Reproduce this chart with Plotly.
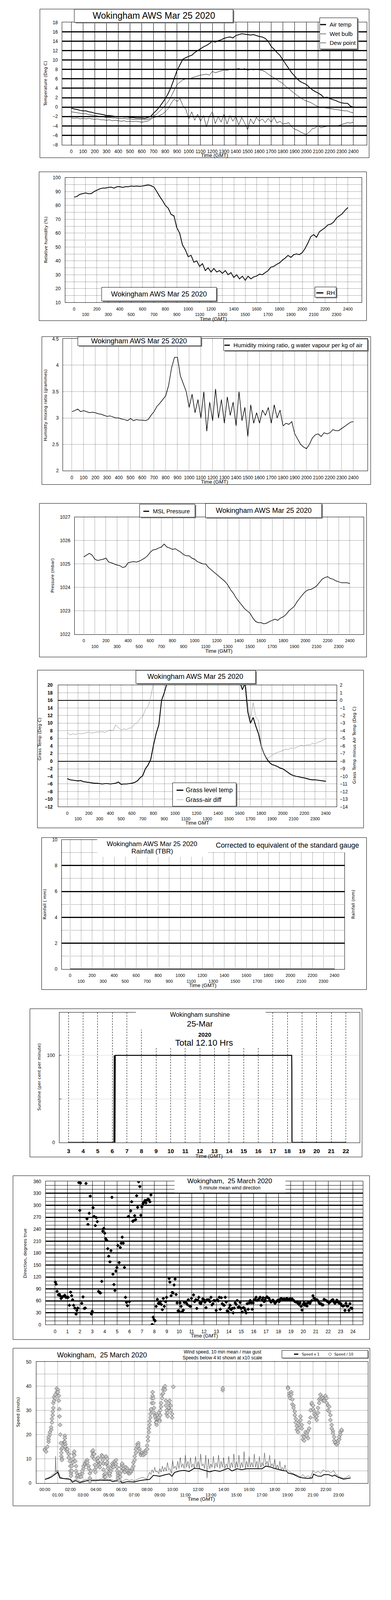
import plotly.graph_objects as go

W, H = 1000, 5000          # coordinate basis of the layout (reference pixels)
FIG_H = 4090               # rendered height (fits the photographed viewport)
SANS = "Liberation Sans, Arial, sans-serif"
WIDE = "DejaVu Sans, Verdana, sans-serif"
DOT = "1px,2px"

# ---------------- data ----------------
T25 = list(range(0, 2401, 25))          # time of day, HHMM-style scale
HHMM = list(range(0, 2401, 100))        # tick values for the HHMM axes
HOUR_TICKS = list(range(0, 24))         # wind speed axis ticks
TITLE = "Wokingham AWS Mar 25 2020"

AIR_TEMP = [
    -0.2, -0.4, -0.5, -0.7,  -0.8, -0.8, -1.0, -1.1,  -1.3, -1.4, -1.5, -1.6,
    -1.8, -1.8, -1.9, -2.0,  -2.0, -2.0, -2.1, -2.1,  -2.2, -2.2, -2.3, -2.3,
    -2.3, -2.4, -2.2, -2.0,  -1.3, -0.7, 0.0, 0.9,  1.8, 2.9, 4.3, 6.0,
    7.8, 9.0, 10.2, 10.5,  10.8, 11.0, 11.6, 12.0,  12.4, 12.8, 13.1, 13.5,
    14.0, 13.8, 14.1, 14.3,  14.6, 14.8, 14.9, 14.7,  15.2, 15.4, 15.6, 15.5,
    15.4, 15.3, 15.4, 15.2,  15.0, 14.9, 14.6, 14.0,  12.9, 12.3, 11.6, 11.0,
    10.0, 9.1, 8.2, 7.3,  6.6, 5.9, 5.4, 5.1,  4.8, 4.2, 3.7, 3.3,
    3.0, 2.6, 2.0, 2.1,  1.8, 1.6, 1.4, 1.1,  0.9, 0.8, 0.8, 0.2,  0.0]
WET_BULB = [
    -1.0, -1.1, -1.2, -1.3,  -1.4, -1.4, -1.6, -1.7,  -1.8, -1.9, -2.0, -2.1,
    -2.2, -2.2, -2.3, -2.3,  -2.4, -2.4, -2.4, -2.5,  -2.5, -2.6, -2.6, -2.6,
    -2.6, -2.7, -2.6, -2.4,  -1.9, -1.5, -0.9, -0.3,  0.4, 1.2, 2.3, 3.6,
    4.8, 5.3, 5.8, 6.0,  6.0, 6.2, 6.4, 6.6,  6.8, 6.9, 7.0, 6.8,
    7.6, 7.3, 7.5, 7.7,  7.9, 7.8, 8.0, 7.9,  8.1, 8.2, 8.0, 8.2,
    7.8, 8.0, 7.9, 8.0,  7.9, 7.8, 7.5, 7.0,  6.6, 6.2, 5.8, 5.4,
    5.0, 4.4, 3.9, 3.4,  2.9, 2.4, 2.0, 1.6,  1.3, 1.1, 0.8, 0.4,
    0.1, 0.0, -0.1, -0.2,  -0.3, -0.4, -0.5, -0.6,  -0.7, -0.8, -0.8, -1.1,  -1.2]
DEW_POINT = [
    -2.3, -2.4, -2.3, -2.5,  -2.4, -2.5, -2.4, -2.5,  -2.6, -2.5, -2.7, -2.7,
    -2.8, -2.7, -2.9, -2.8,  -2.9, -3.0, -2.9, -3.1,  -3.0, -3.1, -3.0, -3.1,
    -3.2, -3.1, -3.0, -2.6,  -2.2, -2.1, -1.8, -1.5,  -1.0, -0.3, 0.8, 1.7,
    1.2, 1.8, 0.3, -0.5,  -2.5, -1.0, -2.8, -1.5,  -3.0, -1.8, -4.2, -2.0,
    -1.0, -3.5, -2.0, -3.2,  -1.5, -3.6, -1.8, -3.0,  -2.0, -3.8, -2.2, -3.4,
    -4.8, -2.5, -3.6, -2.2,  -3.0, -2.5, -3.3, -2.4,  -3.2, -2.2, -3.4, -3.0,
    -3.6, -3.5, -3.3, -4.2,  -4.7, -4.9, -5.3, -5.6,  -5.8, -5.3, -4.6, -4.4,
    -4.0, -4.4, -4.2, -4.1,  -3.9, -4.1, -4.0, -3.9,  -3.7, -3.5, -3.3, -3.4,  -3.2]
RH = [
    86, 86.5, 88, 88.5,  89, 88.5, 88.5, 90,  91, 92, 92.5, 92.5,
    93, 93.2, 92.5, 93.5,  93.5, 93, 93.5, 93.5,  94, 93.8, 94, 93.8,
    94, 94.5, 94.8, 94.2,  93.2, 90, 86.5, 83.5,  80, 78, 73.5, 72.5,
    64, 60, 51.5, 48,  43, 44, 39, 40,  36, 38, 33, 35,
    32, 34.5, 32, 33,  31, 33, 30, 31.5,  28, 30, 27, 29,
    26, 29, 27, 28.5,  29, 30.5, 30, 31.5,  33, 35.5, 36, 37.5,
    38.5, 40.5, 42, 44,  42.5, 44.5, 45, 44.5,  46, 49, 53, 57.5,
    59, 57, 61, 62.5,  64, 66, 66.5, 68,  71, 72.5, 74, 76.5,  78.5]
MIX_RATIO = [
    3.12, 3.14, 3.17, 3.12,  3.14, 3.12, 3.10, 3.11,  3.10, 3.08, 3.07, 3.05,
    3.03, 3.04, 3.02, 3.00,  3.00, 2.98, 2.97, 2.95,  2.99, 2.95, 2.97, 2.96,
    2.96, 2.95, 2.97, 3.05,  3.12, 3.22, 3.28, 3.35,  3.42, 3.62, 3.95, 4.15,
    4.15, 3.8, 3.65, 3.5,  3.2, 3.45, 3.1, 3.35,  3.0, 3.5, 2.75, 3.3,
    2.95, 3.55, 3.0, 3.35,  2.9, 3.4, 3.05, 3.3,  2.85, 3.5, 2.95, 3.2,
    2.65, 3.25, 2.9, 3.1,  2.9, 3.15, 3.05, 3.2,  2.9, 3.25, 3.0, 3.15,
    2.85, 2.9, 2.88, 2.93,  2.7, 2.6, 2.5, 2.45,  2.42, 2.5, 2.62, 2.68,
    2.7, 2.65, 2.72, 2.7,  2.72, 2.78, 2.76, 2.76,  2.8, 2.84, 2.88, 2.92,  2.93]
MSL_PRESSURE = [
    1025.3, 1025.38, 1025.45, 1025.38,  1025.2, 1025.15, 1025.17, 1025.2,
    1025.25, 1025.08, 1025.05, 1025.0,  1024.95, 1024.93, 1024.85, 1024.88,
    1025.05, 1025.08, 1025.1, 1025.08,  1025.12, 1025.18, 1025.25, 1025.35,
    1025.5, 1025.6, 1025.62, 1025.68,  1025.72, 1025.85, 1025.72, 1025.68,
    1025.62, 1025.65, 1025.58, 1025.5,  1025.4, 1025.35, 1025.35, 1025.25,
    1025.2, 1025.1, 1025.05, 1025.0,  1025.0, 1024.85, 1024.75, 1024.65,
    1024.55, 1024.45, 1024.35, 1024.25,  1024.1, 1023.9, 1023.75, 1023.55,
    1023.4, 1023.25, 1023.1, 1023.0,  1022.9, 1022.7, 1022.55, 1022.5,
    1022.5, 1022.45, 1022.48, 1022.55,  1022.6, 1022.65, 1022.6, 1022.7,
    1022.75, 1022.85, 1023.0, 1023.1,  1023.2, 1023.4, 1023.55, 1023.7,
    1023.83, 1023.9, 1023.92, 1023.98,  1024.06, 1024.2, 1024.35, 1024.42,
    1024.46, 1024.38, 1024.35, 1024.28,  1024.24, 1024.2, 1024.2, 1024.2,  1024.17]
GRASS_TEMP = [
    -4.6, -4.9, -5.0, -5.1,  -5.2, -5.1, -5.4, -5.5,  -5.6, -5.7, -5.8, -5.8,
    -5.9, -6.0, -5.9, -5.9,  -6.0, -5.9, -5.8, -5.5,  -6.1, -6.0, -6.0, -5.9,
    -5.8, -5.6, -5.2, -4.4,  -3.8, -2.0, -1.0, 0.5,  4.2, 7.3, 9.6, 16.0,
    18.0, 20.5, 22.0, 23.5,  24.5, 25.5, 26.0, 27.0,  27.5, 28.0, 28.5, 29.0,
    29.5, 30.0, 30.5, 31.0,  31.0, 31.5, 31.0, 30.5,  30.0, 29.5, 29.0, 28.0,
    27.0, 26.0, 25.0, 23.5,  21.0, 18.8, 20.5, 13.0,  10.0, 11.5, 9.2, 7.2,
    4.0, 2.0, 0.7, -0.3,  -0.9, -1.1, -1.4, -1.8,  -2.0, -2.5, -3.0, -3.5,
    -3.8, -4.0, -4.1, -4.3,  -4.4, -4.6, -4.8, -4.9,  -4.9, -5.0, -5.1, -5.2,  -5.3]
GRASS_AIR_DIFF = [
    -4.2, -4.55, -4.4, -4.5,  -4.35, -4.4, -4.35, -4.25,  -4.2, -4.3, -4.25, -4.15,
    -4.2, -4.1, -4.25, -4.0,  -3.9, -4.0, -3.2, -3.6,  -3.9, -3.75, -3.85, -3.65,
    -3.6, -3.1, -2.95, -2.4,  -2.15, -1.2, -0.8, 0.5,  2.3, 4.0, 4.5, 5.0,
    5.5, 6.0, 6.5, 7.0,  7.5, 8.0, 8.5, 9.0,  9.5, 10.0, 10.5, 11.0,
    11.5, 12.0, 12.0, 12.5,  12.5, 12.5, 12.0, 12.0,  11.5, 11.0, 10.5, 10.0,
    9.5, 9.0, 8.0, 7.0,  6.0, 5.0, 3.0, -0.5,  -2.5, -0.3, -2.2, -2.7,
    -6.0, -7.0, -7.6, -7.5,  -7.25, -7.0, -6.85, -6.75,  -6.6, -6.4, -6.5, -6.25,
    -6.35, -6.2, -6.0, -5.9,  -6.0, -5.85, -5.9, -5.65,  -5.75, -5.5, -5.4, -5.2,  -5.1]
RAIN_MM = [0.0, 0.0, 0.0, 0.0, 0.0, 0.0, 0.0, 0.0, 0.0, 0.0, 0.0, 0.0, 0.0,
           0.0, 0.0, 0.0, 0.0, 0.0, 0.0, 0.0, 0.0, 0.0, 0.0, 0.0, 0.0]
SUN_HOURS = [3.0, 6.11, 6.13, 6.15, 6.18, 6.20, 18.29, 18.30, 18.31, 22.0]
SUN_PCT = [0, 0, 100, 0, 0, 100, 100, 82, 0, 0]
SUN_TICKS = list(range(3, 23))

WIND_DIR = [
    (0.02, 107), (0.08, 102), (0.16, 84), (0.26, 75), (0.34, 77), (0.4, 73), (0.48, 66), (0.58, 70),
    (0.7, 72), (0.78, 74), (0.86, 69), (0.96, 69), (1.05, 69), (1.15, 49), (1.25, 82), (1.33, 73),
    (1.41, 63), (1.49, 49), (1.59, 42), (1.69, 27), (1.75, 36), (1.83, 42), (1.91, 357), (1.99, 287),
    (2.05, 356), (2.15, 54), (2.25, 70), (2.35, 41), (2.43, 42), (2.49, 355), (2.57, 266), (2.65, 252),
    (2.75, 280), (2.83, 323), (2.93, 27), (2.99, 34), (3.06, 294), (3.14, 272), (3.24, 249), (3.32, 269),
    (3.4, 259), (3.5, 84), (3.58, 81), (3.66, 80), (3.76, 109), (3.84, 235), (3.92, 242), (4.0, 230),
    (4.08, 216), (4.16, 212), (4.24, 191), (4.32, 172), (4.42, 158), (4.5, 186), (4.58, 320), (4.66, 127),
    (4.74, 101), (4.82, 86), (4.9, 135), (4.98, 144), (5.06, 199), (5.16, 156), (5.25, 194), (5.33, 205),
    (5.41, 220), (5.49, 205), (5.59, 144), (5.67, 69), (5.75, 56), (5.83, 48), (5.91, 272), (5.99, 58),
    (6.09, 286), (6.17, 309), (6.25, 260), (6.33, 261), (6.41, 274), (6.49, 264), (6.57, 324), (6.65, 295),
    (6.73, 359), (6.83, 347), (6.91, 275), (6.99, 296), (7.08, 304), (7.16, 308), (7.24, 312), (7.32, 306),
    (7.4, 313), (7.48, 315), (7.56, 314), (7.64, 309), (7.72, 326), (7.82, 1), (7.9, 19), (7.98, 13),
    (8.06, 10), (8.14, 46), (8.24, 64), (8.32, 54), (8.4, 53), (8.48, 58), (8.56, 51), (8.64, 38),
    (8.72, 66), (8.8, 46), (8.9, 58), (8.98, 69), (9.19, 116), (9.25, 107), (9.35, 73), (9.43, 81),
    (9.51, 80), (9.59, 100), (9.67, 115), (9.75, 76), (9.83, 55), (9.91, 35), (9.99, 34), (10.07, 55),
    (10.15, 46), (10.25, 33), (10.33, 37), (10.41, 56), (10.49, 57), (10.57, 55), (10.65, 51), (10.73, 63),
    (10.83, 47), (10.91, 46), (10.99, 66), (11.16, 75), (11.24, 58), (11.34, 63), (11.42, 41), (11.5, 62),
    (11.58, 69), (11.66, 55), (11.74, 53), (11.82, 58), (11.9, 65), (12.0, 63), (12.08, 57), (12.16, 43),
    (12.24, 63), (12.32, 62), (12.4, 63), (12.48, 58), (12.56, 69), (12.64, 50), (12.72, 53), (12.8, 61),
    (12.88, 60), (12.98, 36), (13.07, 63), (13.15, 60), (13.23, 69), (13.31, 39), (13.39, 68), (13.47, 53),
    (13.55, 50), (13.63, 49), (13.71, 69), (13.79, 57), (13.87, 35), (13.95, 32), (14.03, 42), (14.11, 49),
    (14.19, 38), (14.27, 41), (14.35, 30), (14.43, 42), (14.51, 55), (14.59, 51), (14.67, 61), (14.75, 44),
    (14.83, 45), (14.91, 56), (14.99, 41), (15.08, 32), (15.16, 43), (15.24, 42), (15.32, 36), (15.4, 30),
    (15.48, 53), (15.56, 39), (15.64, 55), (15.72, 61), (15.8, 55), (15.88, 39), (15.96, 55), (16.04, 63),
    (16.12, 63), (16.2, 69), (16.28, 61), (16.36, 63), (16.44, 65), (16.52, 69), (16.6, 49), (16.68, 63),
    (16.76, 68), (16.84, 58), (16.92, 63), (17.0, 68), (17.08, 70), (17.16, 68), (17.24, 66), (17.32, 61),
    (17.4, 57), (17.48, 60), (17.56, 62), (17.64, 58), (17.72, 54), (17.8, 57), (17.88, 60), (17.96, 62),
    (18.05, 58), (18.13, 64), (18.21, 66), (18.29, 65), (18.37, 63), (18.45, 65), (18.53, 63), (18.61, 65),
    (18.69, 66), (18.77, 63), (18.85, 64), (18.93, 65), (19.01, 63), (19.09, 65), (19.17, 63), (19.26, 60),
    (19.34, 58), (19.42, 57), (19.5, 58), (19.58, 54), (19.66, 51), (19.74, 55), (19.82, 46), (19.9, 37),
    (19.98, 51), (20.06, 55), (20.14, 49), (20.22, 53), (20.3, 47), (20.38, 55), (20.46, 57), (20.54, 54),
    (20.62, 59), (20.7, 61), (20.78, 73), (20.86, 67), (20.94, 62), (21.03, 63), (21.11, 63), (21.19, 60),
    (21.27, 55), (21.35, 53), (21.43, 53), (21.51, 50), (21.59, 50), (21.67, 64), (21.75, 62), (21.83, 61),
    (21.91, 59), (21.99, 58), (22.07, 55), (22.15, 57), (22.23, 59), (22.31, 62), (22.39, 63), (22.47, 57),
    (22.55, 54), (22.63, 57), (22.71, 62), (22.79, 57), (22.87, 55), (22.95, 54), (23.03, 53), (23.12, 48),
    (23.2, 47), (23.28, 48), (23.36, 36), (23.44, 54), (23.52, 47), (23.6, 47), (23.68, 36), (23.76, 53),
    (23.84, 42), (23.92, 41)]

SPEED_MEAN = [
    (0.0, 1.5), (0.3, 2.0), (0.5, 2.5), (0.7, 3.3), (0.9, 4.0), (1.0, 4.6), (1.17, 2.1), (1.4, 1.9),
    (1.7, 1.7), (2.0, 1.5), (2.15, 0.35), (2.4, 1.0), (2.73, 0.2), (3.0, 0.6), (3.3, 1.0), (3.6, 1.1),
    (3.9, 1.0), (4.3, 1.2), (4.7, 1.1), (5.1, 1.2), (5.3, 0.6), (5.6, 0.9), (5.9, 0.8), (6.05, 0.1),
    (6.45, 0.6), (7.0, 0.45), (7.4, 1.0), (7.8, 1.3), (8.2, 1.5), (8.5, 3.2), (9.0, 2.8), (9.4, 3.4),
    (9.75, 3.8), (9.95, 2.8), (10.15, 4.35), (10.55, 5.0), (10.9, 5.2), (11.3, 4.8), (11.7, 6.1),
    (12.1, 5.9), (12.5, 5.2), (12.9, 4.6), (13.3, 5.2), (13.7, 4.8), (14.05, 5.5), (14.35, 6.1),
    (14.65, 5.0), (15.05, 5.9), (15.4, 5.5), (15.8, 5.9), (16.2, 5.9), (16.6, 5.9), (17.0, 5.9),
    (17.3, 7.0), (17.7, 6.6), (17.92, 6.1), (18.07, 5.9), (18.43, 5.4), (18.69, 5.1), (18.9, 5.0),
    (19.07, 4.1), (19.46, 3.6), (19.88, 2.5), (20.12, 2.2), (20.58, 1.9), (20.93, 2.1), (21.04, 3.7),
    (21.35, 2.9), (21.65, 2.8), (21.85, 3.5), (22.21, 3.5), (22.52, 2.8), (22.67, 3.3), (22.98, 2.4),
    (23.39, 1.6), (23.79, 2.0), (23.94, 2.1)]

SPEED_GUST = [
    (0.0, 1.6), (0.2, 2.0), (0.4, 2.6), (0.6, 3.5), (0.8, 4.0), (0.84, 11.0), (0.88, 4.5), (1.0, 5.5),
    (1.1, 4.0), (1.2, 2.5), (1.4, 2.0), (1.6, 1.8), (1.8, 2.0), (2.0, 1.5), (2.2, 0.9), (2.4, 1.5),
    (2.6, 1.2), (2.8, 0.6), (3.0, 1.0), (3.2, 1.6), (3.4, 1.2), (3.6, 1.8), (3.8, 1.3), (4.0, 1.6),
    (4.2, 1.2), (4.4, 1.8), (4.6, 1.4), (4.8, 1.6), (5.0, 1.2), (5.2, 1.5), (5.4, 1.0), (5.6, 1.4),
    (5.8, 1.2), (6.0, 0.5), (6.2, 1.2), (6.4, 1.6), (6.6, 1.0), (6.8, 1.4), (7.0, 0.9), (7.2, 1.5),
    (7.4, 1.8), (7.6, 2.4), (7.8, 2.0), (8.0, 1.8), (8.2, 4.5), (8.3, 3.5), (8.4, 5.5), (8.5, 4.2),
    (8.6, 6.5), (8.7, 4.5), (8.8, 5.0), (8.9, 3.8), (9.0, 6.0), (9.1, 4.5), (9.2, 7.0), (9.3, 4.8),
    (9.4, 6.5), (9.5, 5.0), (9.6, 8.5), (9.7, 5.5), (9.8, 6.0), (9.9, 4.0), (10.0, 9.5), (10.1, 6.0),
    (10.2, 7.0), (10.3, 5.5), (10.4, 9.0), (10.5, 6.0), (10.6, 10.5), (10.7, 6.5), (10.8, 8.0),
    (10.9, 6.0), (11.0, 11.5), (11.1, 6.5), (11.2, 9.0), (11.3, 6.0), (11.4, 10.5), (11.5, 6.5),
    (11.6, 8.0), (11.7, 6.0), (11.8, 11.0), (11.9, 6.5), (12.0, 9.0), (12.1, 6.0), (12.2, 12.0),
    (12.3, 7.0), (12.4, 8.0), (12.5, 6.0), (12.6, 11.5), (12.7, 2.0), (12.8, 10.0), (12.9, 6.0),
    (13.0, 8.0), (13.1, 6.5), (13.2, 11.0), (13.3, 6.0), (13.4, 8.5), (13.5, 6.5), (13.6, 11.5),
    (13.7, 6.0), (13.8, 9.0), (13.9, 6.5), (14.0, 10.5), (14.1, 6.0), (14.2, 8.0), (14.3, 6.5),
    (14.4, 11.0), (14.5, 6.0), (14.6, 8.5), (14.7, 6.5), (14.8, 12.0), (14.9, 6.0), (15.0, 9.0),
    (15.1, 6.5), (15.2, 11.5), (15.3, 6.0), (15.4, 8.5), (15.5, 6.5), (15.6, 13.0), (15.7, 6.0),
    (15.8, 9.0), (15.9, 6.5), (16.0, 11.0), (16.1, 6.5), (16.2, 8.5), (16.3, 6.5), (16.4, 12.0),
    (16.5, 6.5), (16.6, 9.0), (16.7, 6.0), (16.8, 11.0), (16.9, 6.5), (17.0, 8.5), (17.1, 7.0),
    (17.2, 12.5), (17.3, 7.5), (17.4, 9.0), (17.5, 7.0), (17.6, 11.5), (17.7, 7.0), (17.8, 8.0),
    (17.9, 6.5), (18.0, 10.0), (18.1, 6.0), (18.2, 7.5), (18.3, 5.5), (18.4, 9.0), (18.5, 5.5),
    (18.6, 6.5), (18.7, 5.0), (18.8, 7.5), (18.9, 5.0), (19.0, 5.5), (19.2, 4.5), (19.4, 4.0),
    (19.6, 3.5), (19.8, 3.2), (20.0, 2.5), (20.2, 3.5), (20.4, 2.3), (20.6, 3.0), (20.8, 2.2),
    (21.0, 5.2), (21.2, 4.2), (21.4, 4.8), (21.6, 4.0), (21.8, 5.5), (22.0, 4.8), (22.2, 5.0),
    (22.4, 4.2), (22.6, 5.2), (22.8, 3.5), (23.0, 3.0), (23.2, 2.2), (23.4, 2.0), (23.6, 2.3),
    (23.8, 3.2), (23.94, 2.4)]

SPEED_X10 = [
    (0.0, 14.0), (0.0, 13.5), (0.1, 13.0), (0.2, 15.0), (0.29, 17.0), (0.29, 18.0), (0.29, 19.0),
    (0.39, 20.0), (0.39, 21.0), (0.49, 22.0), (0.49, 23.0), (0.55, 25.0), (0.55, 26.5), (0.61, 28.0),
    (0.61, 29.5), (0.66, 31.0), (0.66, 33.0), (0.72, 34.0), (0.72, 35.5), (0.82, 35.0), (0.82, 36.5),
    (0.92, 37.5), (0.92, 39.0), (1.02, 38.5), (1.02, 37.5), (1.09, 36.0), (1.09, 34.0), (1.13, 30.5),
    (1.15, 27.5), (1.19, 24.0), (1.21, 20.0), (1.25, 16.5), (1.29, 14.0), (1.29, 12.5), (1.29, 11.0),
    (1.33, 10.0), (1.33, 9.5), (1.37, 14.5), (1.46, 15.5), (1.52, 17.0), (1.56, 19.5), (1.56, 18.5),
    (1.56, 17.0), (1.6, 16.0), (1.6, 15.0), (1.68, 14.0), (1.68, 13.5), (1.76, 13.0), (1.76, 14.0),
    (1.86, 12.0), (1.86, 10.5), (1.95, 9.0), (1.99, 7.0), (1.99, 5.0), (2.05, 4.0), (2.05, 3.0),
    (2.11, 5.0), (2.11, 7.0), (2.19, 8.5), (2.19, 10.0), (2.25, 12.0), (2.3, 13.0), (2.3, 11.5),
    (2.38, 9.0), (2.44, 7.0), (2.44, 5.0), (2.5, 4.0), (2.5, 2.5), (2.58, 3.0), (2.7, 2.5),
    (2.77, 3.5), (2.83, 2.5), (2.93, 4.0), (2.93, 5.0), (3.03, 6.0), (3.03, 7.0), (3.13, 7.5),
    (3.13, 8.0), (3.22, 8.5), (3.22, 9.0), (3.32, 9.5), (3.32, 8.5), (3.42, 7.0), (3.42, 6.0),
    (3.52, 4.0), (3.52, 2.0), (3.52, 0.7), (3.61, 5.0), (3.71, 11.0), (3.71, 13.0), (3.77, 12.0),
    (3.77, 13.5), (3.85, 12.0), (3.85, 10.0), (3.91, 7.5), (3.91, 5.5), (3.96, 4.5), (4.02, 6.5),
    (4.1, 9.0), (4.1, 10.0), (4.16, 10.5), (4.16, 9.0), (4.24, 8.0), (4.24, 7.5), (4.3, 6.5),
    (4.36, 8.0), (4.45, 10.5), (4.45, 11.5), (4.53, 11.0), (4.53, 9.5), (4.59, 8.0), (4.59, 5.5),
    (4.65, 3.5), (4.65, 2.5), (4.73, 2.5), (4.73, 4.0), (4.79, 8.0), (4.79, 10.5), (4.79, 11.0),
    (4.88, 10.0), (4.88, 8.5), (4.94, 7.0), (4.94, 6.0), (5.02, 4.5), (5.02, 3.5), (5.08, 3.0),
    (5.08, 4.0), (5.18, 5.0), (5.18, 6.0), (5.27, 7.0), (5.27, 8.0), (5.37, 7.5), (5.37, 6.5),
    (5.47, 8.0), (5.47, 9.0), (5.57, 9.5), (5.57, 8.0), (5.66, 6.5), (5.66, 5.0), (5.72, 4.0),
    (5.72, 3.0), (5.72, 2.0), (5.82, 1.0), (5.9, 2.5), (5.9, 4.0), (5.98, 5.0), (5.98, 6.5),
    (6.05, 7.5), (6.05, 8.0), (6.15, 7.0), (6.15, 6.0), (6.25, 5.0), (6.25, 4.5), (6.35, 5.5),
    (6.35, 6.5), (6.45, 6.0), (6.45, 5.0), (6.54, 4.5), (6.54, 4.0), (6.64, 5.0), (6.64, 4.0),
    (6.74, 4.5), (6.74, 5.0), (6.84, 5.5), (6.84, 6.0), (6.93, 7.0), (6.93, 8.5), (7.03, 9.5),
    (7.03, 11.0), (7.13, 12.5), (7.13, 14.0), (7.23, 15.0), (7.23, 16.0), (7.32, 16.5), (7.32, 15.5),
    (7.42, 14.0), (7.42, 13.0), (7.52, 12.0), (7.52, 11.5), (7.62, 12.0), (7.62, 12.5), (7.71, 12.0),
    (7.71, 11.5), (7.81, 13.0), (7.81, 12.0), (7.91, 12.5), (7.91, 13.5), (8.01, 14.0), (8.01, 15.5),
    (8.07, 17.5), (8.07, 19.0), (8.14, 21.0), (8.14, 22.5), (8.2, 24.0), (8.2, 25.5), (8.26, 27.0),
    (8.26, 28.5), (8.32, 30.0), (8.32, 30.5), (8.38, 33.0), (8.38, 35.0), (8.44, 36.0), (8.44, 37.5),
    (8.5, 35.0), (8.5, 33.0), (8.55, 31.0), (8.55, 29.0), (8.63, 28.0), (8.63, 27.5), (8.69, 26.5),
    (8.69, 25.0), (8.75, 24.0), (8.75, 25.0), (8.83, 26.5), (8.83, 28.0), (8.91, 29.0), (8.91, 27.0),
    (8.98, 26.0), (8.98, 25.5), (9.04, 28.0), (9.04, 30.0), (9.1, 31.5), (9.1, 33.0), (9.18, 35.0),
    (9.18, 36.5), (9.26, 37.0), (9.26, 38.5), (9.34, 39.5), (9.34, 39.0), (9.41, 40.0), (9.41, 38.5),
    (9.47, 34.0), (9.47, 32.0), (9.53, 30.0), (9.53, 28.5), (9.61, 27.5), (9.61, 29.0), (9.69, 31.0),
    (9.69, 33.0), (9.77, 34.0), (9.86, 32.0), (9.86, 30.0), (9.96, 28.5), (9.96, 27.0), (10.06, 39.7),
    (13.93, 38.3), (13.93, 39.1),
    (19.04, 39.5), (19.04, 39.0), (19.14, 37.0), (19.14, 36.0), (19.2, 35.0), (19.3, 37.5),
    (19.3, 36.5), (19.38, 34.5), (19.38, 32.5), (19.47, 32.0), (19.47, 31.0), (19.57, 29.5),
    (19.57, 28.0), (19.65, 26.5), (19.65, 25.0), (19.73, 23.5), (19.73, 22.0), (19.82, 21.0),
    (19.82, 22.5), (19.92, 24.0), (19.92, 25.5), (20.02, 27.5), (20.02, 26.0), (20.12, 24.0),
    (20.12, 22.5), (20.21, 19.5), (20.21, 18.0), (20.31, 17.5), (20.31, 19.0), (20.41, 20.0),
    (20.41, 21.0), (20.51, 20.5), (20.51, 19.5), (20.61, 18.5), (20.61, 21.5), (20.7, 22.5),
    (20.7, 25.0), (20.8, 27.0), (20.8, 30.0), (20.9, 32.5), (20.9, 33.0), (21.0, 32.0), (21.0, 30.5),
    (21.09, 29.5), (21.09, 28.5), (21.19, 28.0), (21.19, 27.0), (21.29, 26.0), (21.29, 27.5),
    (21.39, 29.0), (21.39, 31.0), (21.48, 33.0), (21.48, 34.5), (21.58, 35.0), (21.58, 36.5),
    (21.68, 35.5), (21.68, 34.5), (21.78, 34.0), (21.78, 35.0), (21.88, 34.5), (21.88, 34.0),
    (21.97, 35.0), (21.97, 36.0), (22.07, 35.0), (22.07, 33.0), (22.17, 32.0), (22.17, 30.0),
    (22.27, 31.5), (22.27, 29.5), (22.36, 28.0), (22.36, 26.0), (22.46, 24.0), (22.46, 22.5),
    (22.56, 21.5), (22.56, 20.5), (22.66, 19.0), (22.66, 17.5), (22.75, 16.5), (22.75, 16.8),
    (22.85, 16.0), (22.85, 15.8), (22.95, 16.5), (22.95, 17.5), (23.05, 18.0), (23.05, 19.0),
    (23.14, 20.0), (23.14, 21.0), (23.24, 21.5), (23.24, 22.0)]

for arr in (AIR_TEMP, WET_BULB, DEW_POINT, RH, MIX_RATIO, MSL_PRESSURE, GRASS_TEMP, GRASS_AIR_DIFF):
    assert len(arr) == len(T25), len(arr)
assert len(RAIN_MM) == len(HHMM)

# ---------------- helpers ----------------
shapes, ann = [], []
XSTAND = 6        # x tick label standoff (px)


def xd(a, b):
    return [a / W, b / W]


def yd(top, bot):
    return [1 - bot / H, 1 - top / H]


def PX(x):
    return x / W


def PY(y):
    return 1 - y / H


def add_rect(x0, y0, x1, y1, fill="white", line=None, lw=1):
    shapes.append(dict(type="rect", xref="paper", yref="paper", x0=PX(x0), x1=PX(x1),
                       y0=PY(y1), y1=PY(y0), fillcolor=fill,
                       line=dict(color=line if line else "rgba(0,0,0,0)", width=lw if line else 0),
                       layer="above"))


def add_box(x0, y0, x1, y1, sh=3):
    add_rect(x0 + sh, y0 + sh, x1 + sh, y1 + sh, fill="#7f7f7f")
    add_rect(x0, y0, x1, y1, fill="white", line="black")


def add_frame(x0, y0, x1, y1):
    add_rect(x0, y0, x1, y1, fill="rgba(0,0,0,0)", line="black")


def add_seg(x0, x1, y, w=3, color="black"):
    shapes.append(dict(type="line", xref="paper", yref="paper", x0=PX(x0), x1=PX(x1),
                       y0=PY(y), y1=PY(y), line=dict(color=color, width=w), layer="above"))


def add_text(x, y, s, size, family=SANS, anchor="center", angle=0, color="black"):
    ann.append(dict(xref="paper", yref="paper", x=PX(x), y=PY(y), text=s, showarrow=False,
                    xanchor=anchor, yanchor="middle", textangle=angle,
                    font=dict(family=family, size=size, color=color)))


def tfont(size=12, bold=False):
    d = dict(family=SANS, size=size, color="black")
    if bold:
        d["weight"] = "bold"
    return d


def base_axis(domain, rng, anchor, **kw):
    d = dict(domain=domain, range=rng, anchor=anchor, showline=True, mirror=True,
             linecolor="black", linewidth=1, ticks="", zeroline=False, showgrid=False,
             gridcolor="black", gridwidth=1, tickfont=tfont(), fixedrange=True, tickangle=0)
    d.update(kw)
    return d


def grid_overlay(base, rng, vals, width, anchor):
    return dict(overlaying=base, anchor=anchor, range=rng, tickmode="array", tickvals=vals,
                showticklabels=False, showgrid=True, gridcolor="black", gridwidth=width,
                zeroline=False, showline=False, ticks="", fixedrange=True)


def two_row(vals, fmt):
    return [fmt(v) if i % 2 == 0 else "<br>" + fmt(v) for i, v in enumerate(vals)]


fig = go.Figure()
L = dict(width=W, height=FIG_H, margin=dict(l=0, r=0, t=0, b=0), paper_bgcolor="white",
         plot_bgcolor="white", showlegend=False)


def line(x, y, xa, ya, color="black", width=1):
    fig.add_trace(go.Scatter(x=x, y=y, mode="lines", line=dict(color=color, width=width),
                             xaxis=xa, yaxis=ya, hoverinfo="skip"))


def dummy(xa, ya):
    fig.add_trace(go.Scatter(x=[None], y=[None], mode="lines", xaxis=xa, yaxis=ya, hoverinfo="skip"))


# ---------------- panel 1: temperatures ----------------
L["xaxis"] = base_axis(xd(159.4, 937.5), [-76, 2512], "y", tickmode="array", tickvals=HHMM,
                       ticktext=[str(v) for v in HHMM], showgrid=True, ticklabelstandoff=XSTAND)
L["yaxis"] = base_axis(yd(61.7, 446.0), [-8, 18], "x", tickmode="linear", tick0=-8, dtick=2,
                       ticklabelstandoff=8)
L["yaxis11"] = grid_overlay("y", [-8, 18], [-6, -4, -2, 0, 2, 4, 6, 8, 10, 12, 14, 16], 3, "x")
line(T25, WET_BULB, "x", "y", width=1)
line(T25, DEW_POINT, "x", "y", width=1)
line(T25, AIR_TEMP, "x", "y", width=2)
dummy("x", "y11")
add_frame(102, 19.9, 944, 486.8)
add_box(190, 20.6, 596, 61.7)
add_text(393, 40, TITLE, 23)
add_box(817.6, 47.4, 914, 145.3)
add_seg(819, 834, 68.6, 3)
add_seg(819, 834, 97.8, 1)
add_seg(819, 834, 126, 1)
add_text(841, 68.6, "Air temp", 15, anchor="left")
add_text(841, 97.8, "Wet bulb", 15, anchor="left")
add_text(841, 126, "Dew point", 15, anchor="left")
add_text(549, 479.2, "Time (GMT)", 13)
add_text(116.7, 254.4, "Temperature (Deg C)", 11, family=WIDE, angle=-90)

# ---------------- panel 2: RH ----------------
L["xaxis2"] = base_axis(xd(166.5, 924.8), [-79, 2520], "y2", tickmode="array", tickvals=HHMM,
                        ticktext=two_row(HHMM, str), showgrid=True, griddash=DOT,
                        tickfont=tfont(11), ticklabelstandoff=XSTAND)
L["yaxis2"] = base_axis(yd(549.5, 941.3), [10, 100], "x2", tickmode="linear", tick0=10, dtick=10,
                        showgrid=True, griddash=DOT, ticklabelstandoff=8,
                        minor=dict(dtick=5, tick0=0, showgrid=True, gridcolor="black", griddash=DOT,
                                   gridwidth=1, ticks=""))
line(T25, RH, "x2", "y2", width=2)
add_frame(100, 531, 937.5, 998.4)
add_box(260, 893.6, 553.6, 936.6)
add_text(406, 915.6, TITLE, 18)
add_box(805.5, 892.6, 859.7, 925.1)
add_seg(809, 827, 911.2, 3)
add_text(833, 911.2, "RH", 15, anchor="left")
add_text(546, 993, "Time (GMT)", 13)
add_text(117, 744.9, "Relative humidity (%)", 11, family=WIDE, angle=-90)

# ---------------- panel 3: mixing ratio ----------------
L["xaxis3"] = base_axis(xd(160.7, 939.5), [-77, 2519], "y3", tickmode="array", tickvals=HHMM,
                        ticktext=[str(v) for v in HHMM], showgrid=True, griddash=DOT,
                        ticklabelstandoff=XSTAND)
L["yaxis3"] = base_axis(yd(1055.4, 1469.8), [2, 4.5], "x3", tickmode="linear", tick0=2, dtick=0.5,
                        showgrid=True, griddash=DOT, ticklabelstandoff=7)
line(T25, MIX_RATIO, "x3", "y3", width=1.5)
add_frame(107, 1048.5, 948, 1513)
add_box(199, 1048.9, 514, 1077.2)
add_text(355, 1062.5, TITLE, 18)
add_box(572, 1056, 940, 1092.5)
add_seg(574, 588, 1075.5, 3)
add_text(595, 1075.5, "Humidity mixing ratio, g water vapour per kg of air", 15, anchor="left")
add_text(549, 1504.9, "Time (GMT)", 13)
add_text(116.7, 1264.2, "Humidity mixing ratio (grammes)", 11, family=WIDE, angle=-90)

# ---------------- panel 4: pressure ----------------
L["xaxis4"] = base_axis(xd(191.3, 929.8), [-81, 2524], "y4", tickmode="array", tickvals=HHMM,
                        ticktext=two_row(HHMM, str), showgrid=True, griddash=DOT,
                        tickfont=tfont(11), ticklabelstandoff=XSTAND)
L["yaxis4"] = base_axis(yd(1615, 1983.7), [1022, 1027], "x4", tickmode="linear", tick0=1022, dtick=1,
                        showgrid=True, griddash=DOT, ticklabelstandoff=8)
line(T25, MSL_PRESSURE, "x4", "y4", width=1.5)
add_frame(100.8, 1572.2, 937.5, 2054.7)
add_box(357, 1574.8, 498.7, 1615.6)
add_seg(366.7, 381.4, 1597, 3)
add_text(389, 1597, "MSL Pressure", 15, anchor="left")
add_box(525.5, 1572.5, 822.7, 1617)
add_text(674, 1594.7, TITLE, 18)
add_text(560, 2036, "Time (GMT)", 13)
add_text(134, 1798.7, "Pressure (mbar)", 11, family=WIDE, angle=-90)

# ---------------- panel 5: grass temperature ----------------
L["xaxis5"] = base_axis(xd(149.2, 861), [-83, 2500], "y5", tickmode="array", tickvals=HHMM,
                        ticktext=two_row(HHMM, str), showgrid=True, griddash=DOT,
                        tickfont=tfont(11), ticklabelstandoff=XSTAND)
L["yaxis5"] = base_axis(yd(2143, 2525), [-12, 20], "x5", tickmode="linear", tick0=-12, dtick=2,
                        showgrid=True, griddash=DOT, zeroline=True, zerolinecolor="black",
                        zerolinewidth=1.5, tickfont=tfont(12, True), ticklabelstandoff=11)
L["yaxis10"] = dict(overlaying="y5", anchor="x5", side="right", range=[-14, 2], tickmode="linear",
                    tick0=-14, dtick=1, showgrid=False, showline=False, ticks="", zeroline=True,
                    zerolinecolor="black", zerolinewidth=1.5, tickfont=tfont(), ticklabelstandoff=7,
                    fixedrange=True)
line(T25, GRASS_AIR_DIFF, "x5", "y10", color="#8f8f8f", width=1)
line(T25, GRASS_TEMP, "x5", "y5", width=2.2)
add_frame(95.7, 2095.9, 929.8, 2591.3)
add_box(347.6, 2096.5, 653.7, 2138)
add_text(499, 2116.4, TITLE, 18)
add_box(441.3, 2449.7, 604, 2523.3)
add_seg(451.5, 468.8, 2473, 3)
add_seg(451.5, 468.8, 2502.8, 1, "#8f8f8f")
add_text(473, 2473, "Grass level temp", 16, anchor="left")
add_text(473, 2502.8, "Grass-air diff", 16, anchor="left")
add_text(504, 2576, "Time GMT", 13)
add_text(102, 2312, "Grass Temp (Deg C)", 11, family=WIDE, angle=-90)
add_text(905.6, 2332, "Grass Temp minus Air Temp (Deg C)", 11, family=WIDE, angle=-90)

# ---------------- panel 6: rainfall ----------------
L["xaxis6"] = base_axis(xd(158.2, 880.7), [-75, 2490], "y6", tickmode="array", tickvals=HHMM,
                        ticktext=two_row(HHMM, str), showgrid=True, griddash=DOT,
                        tickfont=tfont(11), ticklabelstandoff=XSTAND)
L["yaxis6"] = base_axis(yd(2628.2, 3035), [0, 10], "x6", tickmode="linear", tick0=0, dtick=2,
                        ticklabelstandoff=8,
                        minor=dict(dtick=1, tick0=0, showgrid=True, gridcolor="black", griddash=DOT,
                                   gridwidth=1, ticks=""))
L["yaxis12"] = grid_overlay("y6", [0, 10], [2, 4, 6, 8], 2.5, "x6")
line(HHMM, RAIN_MM, "x6", "y6", width=3)
dummy("x6", "y12")
add_frame(106.5, 2621.6, 937.5, 3099.1)
add_rect(248.7, 2624.9, 532.5, 2681.2)
add_rect(532.5, 2624.9, 924.8, 2668)
add_text(389, 2641.5, TITLE, 17)
add_text(389.7, 2665.5, "Rainfall (TBR)", 17)
add_text(735.4, 2646.4, "Corrected to equivalent of the standard gauge", 18)
add_text(519, 3086, "Time (GMT)", 13)
add_text(114.8, 2831, "Rainfall ( mm)", 11, family=WIDE, angle=-90)
add_text(904.3, 2831, "Rainfall (mm)", 11, family=WIDE, angle=-90)

# ---------------- panel 7: sunshine ----------------
L["xaxis7"] = base_axis(xd(151.8, 919.6), [2.37, 22.94], "y7", tickmode="array", tickvals=SUN_TICKS,
                        ticktext=[str(v) for v in SUN_TICKS], showgrid=True, griddash="4px,3px",
                        tickfont=tfont(15, True), ticklabelstandoff=8)
L["yaxis7"] = base_axis(yd(3170.5, 3579), [0, 149.4], "x7", tickmode="array", tickvals=[0, 50, 100],
                        ticktext=["0", "", "100"], showgrid=True, gridcolor="#8c8c8c", griddash=DOT,
                        ticks="inside", ticklen=5, tickcolor="black", ticklabelstandoff=8)
line(SUN_HOURS, SUN_PCT, "x7", "y7", width=2.5)
add_frame(76.5, 3159.2, 926, 3624.8)
add_rect(347.6, 3167, 679.2, 3224.6)
add_rect(376.3, 3224.6, 679.2, 3282.6)
add_text(511, 3178.1, "Wokingham sunshine", 16)
add_text(511, 3205.5, "25-Mar", 21)
add_text(523, 3240.2, "<b>2020</b>", 15)
add_text(522, 3266.5, "Total 12.10 Hrs", 22)
add_text(535, 3622, "Time (GMT)", 13)
add_text(100, 3373.8, "Sunshine (per cent per minute)", 11, family=WIDE, angle=-90)

# ---------------- panel 8: wind direction ----------------
L["xaxis8"] = base_axis(xd(116.7, 928), [-0.764, 24.8], "y8", tickmode="linear", tick0=0, dtick=1,
                        showgrid=True, ticklabelstandoff=XSTAND)
L["yaxis8"] = base_axis(yd(3701.4, 4151.7), [0, 360], "x8", tickmode="linear", tick0=0, dtick=30,
                        showgrid=True, ticklabelstandoff=8,
                        minor=dict(dtick=10, tick0=0, showgrid=True, gridcolor="black", gridwidth=1,
                                   ticks=""))
L["yaxis13"] = grid_overlay("y8", [0, 360], [30, 60, 90, 120, 150, 180, 210, 240, 270, 300, 330], 3, "x8")
fig.add_trace(go.Scatter(x=[p[0] for p in WIND_DIR], y=[p[1] for p in WIND_DIR], mode="markers",
                         marker=dict(symbol="diamond", size=7, color="black"),
                         xaxis="x8", yaxis="y8", hoverinfo="skip"))
dummy("x8", "y13")
add_frame(33.2, 3683.5, 945.2, 4198)
add_rect(446.4, 3698.7, 730.2, 3736.9)
add_text(587, 3700.4, "Wokingham,\u00a0 25 March 2020", 17)
add_text(588, 3721.5, "5 minute mean wind direction", 12)
add_text(523, 4186.5, "Time (GMT)", 13)
add_text(63.8, 3926.9, "Direction, degrees true", 11, family=WIDE, angle=-90)

# ---------------- panel 9: wind speed ----------------
L["xaxis9"] = base_axis(xd(92.5, 940.7), [-0.684, 25.29], "y9", tickmode="array", tickvals=HOUR_TICKS,
                        ticktext=two_row(HOUR_TICKS, lambda h: "%02d:00" % h), showgrid=True,
                        griddash=DOT, tickfont=tfont(11), ticklabelstandoff=XSTAND)
L["yaxis9"] = base_axis(yd(4268.1, 4648.7), [0, 50], "x9", tickmode="linear", tick0=0, dtick=10,
                        showgrid=True, griddash=DOT, ticklabelstandoff=9,
                        minor=dict(dtick=5, tick0=0, showgrid=True, gridcolor="black", griddash=DOT,
                                   gridwidth=1, ticks=""))
line([p[0] for p in SPEED_GUST], [p[1] for p in SPEED_GUST], "x9", "y9", color="#4a4a4a", width=1)
line([p[0] for p in SPEED_MEAN], [p[1] for p in SPEED_MEAN], "x9", "y9", width=2)
fig.add_trace(go.Scatter(x=[p[0] for p in SPEED_X10], y=[p[1] for p in SPEED_X10], mode="markers",
                         marker=dict(symbol="diamond", size=8, color="#c8c8c8",
                                     line=dict(color="#555555", width=1)),
                         xaxis="x9", yaxis="y9", hoverinfo="skip"))
add_frame(33.2, 4225.2, 946, 4720.4)
add_text(261, 4247.2, "Wokingham,\u00a0 25 March 2020", 18)
add_text(569, 4236.5, "Wind speed, 10 min mean / max gust", 12)
add_text(569, 4255.5, "Speeds below 4 kt shown at x10 scale", 12)
add_box(721, 4232, 941, 4256, sh=2)
add_seg(752, 763, 4244, 3)
add_text(770, 4244, "Speed x 1", 9, family=WIDE, anchor="left")
shapes.append(dict(type="path", xref="paper", yref="paper", layer="above",
                   path="M %f,%f L %f,%f L %f,%f L %f,%f Z" % (PX(844), PY(4239.5), PX(848.5), PY(4244),
                                                              PX(844), PY(4248.5), PX(839.5), PY(4244)),
                   fillcolor="white", line=dict(color="#444444", width=1)))
add_text(853, 4244, "Speed / 10", 9, family=WIDE, anchor="left")
add_text(515, 4699, "Time (GMT)", 13)
add_text(46, 4426.3, "Speed (knots)", 11, family=WIDE, angle=-90)

L["shapes"] = shapes
L["annotations"] = ann
fig.update_layout(**L)
fig.write_html("out.html", config={"displayModeBar": False},
               post_script="document.body.style.margin='0px';")
